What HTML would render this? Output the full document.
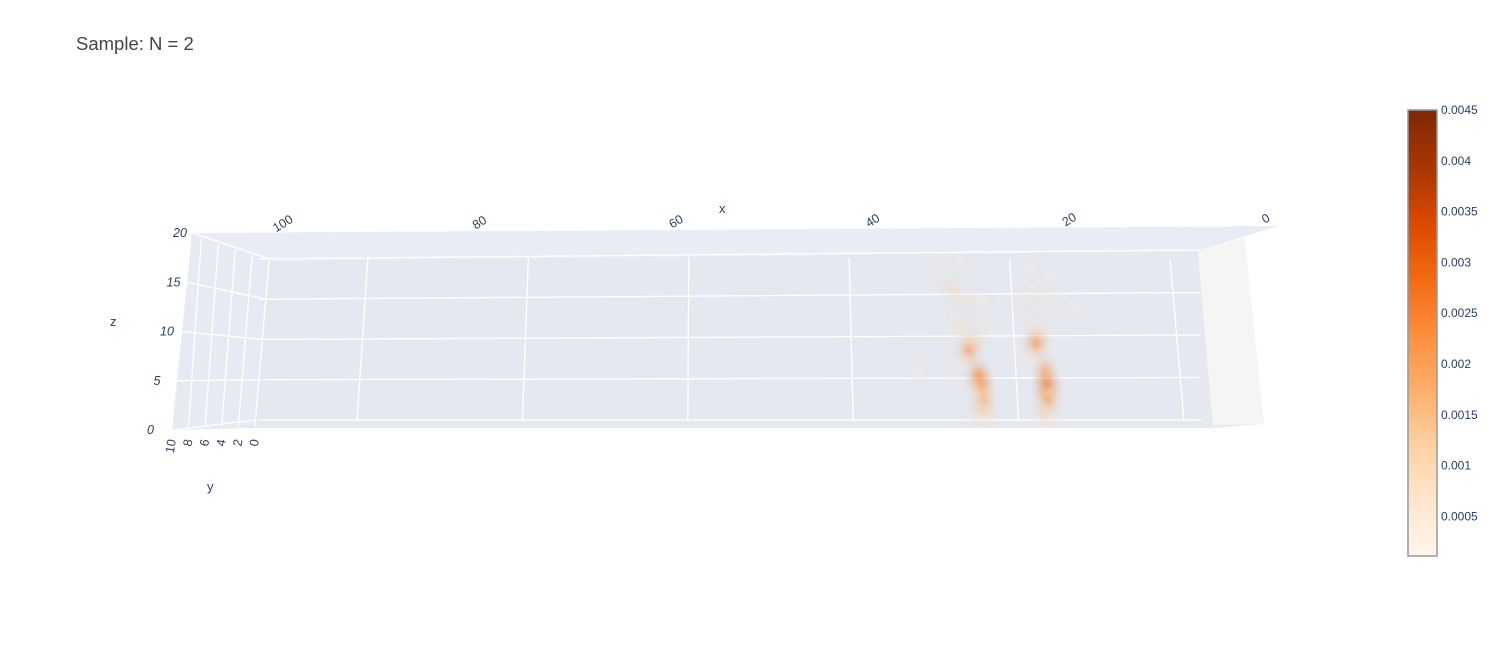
<!DOCTYPE html>
<html><head><meta charset="utf-8"><style>
body{margin:0;background:#fff;font-family:"Liberation Sans",sans-serif}
svg text{font-family:"Liberation Sans",sans-serif;fill:#2a3f5f}
</style></head><body>
<svg width="1503" height="648" xmlns="http://www.w3.org/2000/svg">
<defs>
<linearGradient id="cb" x1="0" y1="1" x2="0" y2="0">
<stop offset="0" stop-color="#fff5eb"/><stop offset="0.125" stop-color="#fee6ce"/><stop offset="0.25" stop-color="#fdd0a2"/><stop offset="0.375" stop-color="#fdae6b"/><stop offset="0.5" stop-color="#fd8d3c"/><stop offset="0.625" stop-color="#f16913"/><stop offset="0.75" stop-color="#d94801"/><stop offset="0.875" stop-color="#a63603"/><stop offset="1" stop-color="#7f2704"/>
</linearGradient>
</defs>
<text x="76" y="50" font-size="18.5" style="fill:#444">Sample: N = 2</text>
<g id="scene">
<polygon points="192,233 1278,226 1198,251 270,261" fill="#e8ecf4"/>
<polygon points="192,233 270,261 255,425 172,430" fill="#e6eaf3"/>
<polygon points="270,261 1198,251 1213,425 255,425" fill="#e5e8ef"/>
<polygon points="1198,251 1245,238 1264,424 1213,425" fill="#f5f5f4"/>
<polygon points="172,430 255,425 1213,425 1264,424 1213,428 255,428" fill="#e6eaf3"/>
<g id="grid" stroke="#fff" stroke-width="1.3" fill="none"></g>
<g id="blobs"></g>
<g id="labels" font-size="12.5"></g>
<text x="719" y="213" font-size="13">x</text>
<text x="110" y="326" font-size="13">z</text>
<text x="207" y="491" font-size="13">y</text>
</g>
<g>
<rect x="1408" y="110" width="29" height="446" fill="url(#cb)" stroke="#999" stroke-width="1.5"/>
<g id="cbticks" font-size="12"></g>
</g>
<script>
const xs=[25.6,24.6,24.3,24.1,24.3,27.4,25.8,26.8,26.2,24.9,23.7,28.0,26.2,29.3,23.7,32.0,27.8,23.7,25.0,17.3,16.5,16.3,16.3,17.0,18.1,18.8,17.5,15.7,20.0,16.5,12.6,17.5,15.1,16.0,26.5,25.0,18.0,16.0];
const zs=[8.7,5.6,4.3,2.5,1.2,16.1,14.9,12.4,11.2,9.9,12.4,18.6,19.6,18.3,14.9,6.2,5.2,0.4,0.2,9.6,6.2,4.3,2.5,0.6,12.4,14.9,16.1,14.9,8.4,11.2,14.0,18.6,18.0,0.3,7.0,3.5,7.5,3.5];
const vals=[0.0024,0.0026,0.0024,0.0020,0.0014,0.0012,0.0009,0.0008,0.0009,0.0011,0.0007,0.0006,0.0005,0.0005,0.0006,0.0006,0.0005,0.0008,0.0007,0.0025,0.0022,0.0030,0.0023,0.0012,0.0008,0.0007,0.0006,0.0007,0.0006,0.0009,0.0006,0.0005,0.0005,0.0009,0.0006,0.0006,0.0006,0.0006];
const zTicks=[0,5,10,15,20];
const xTicks=[0,20,40,60,80,100];
const yTicks=[0,2,4,6,8,10];
const cbTicks=[0.0005,0.001,0.0015,0.002,0.0025,0.003,0.0035,0.004,0.0045];
const cbLabels=["0.0005","0.001","0.0015","0.002","0.0025","0.003","0.0035","0.004","0.0045"];
const NS="http://www.w3.org/2000/svg";
function mk(t,a,p){const e=document.createElementNS(NS,t);for(const k in a)e.setAttribute(k,a[k]);p.appendChild(e);return e;}
const zPx=z=>420-8.05*z;
const xTop=x=>1170-8.02*x, xBot=x=>1184-8.27*x;
const xPx=(x,z)=>{const t=z/20;return xBot(x)*(1-t)+xTop(x)*t;};
const cbY=v=>556-(v-0.00011)/(0.0045-0.00011)*446;
const grid=document.getElementById('grid'),lab=document.getElementById('labels');
zTicks.forEach(z=>{
 const y=zPx(z);
 const l=mk('line',{x1:258,y1:y,x2:1200+0.08*(20-z),y2:y-z*0.45},grid);
 
 const sx=192-(20-z)*1.0, sy=233+(20-z)*9.85;
 const l2=mk('line',{x1:sx,y1:sy,x2:270-(20-z)*0.75,y2:y},grid);
 
 const t=mk('text',{x:sx-25+z*0.3,y:sy+4,'font-style':'italic'},lab);t.textContent=z;
 
});
xTicks.forEach(x=>{
 const l=mk('line',{x1:xTop(x),y1:259-x*0.03,x2:xBot(x),y2:421},grid);
 
 const tx=1268-9.83*x, ty=222+x*0.05;
 const t=mk('text',{x:tx,y:ty,'text-anchor':'middle',transform:`rotate(-32 ${tx} ${ty})`},lab);t.textContent=x;
 
});
yTicks.forEach(yv=>{
 const gx=255-yv*8.3;
 const l=mk('line',{x1:gx+14-yv*0.15,y1:261-yv*2.8,x2:gx,y2:426},grid);
 
 const tx=gx+4, ty=440;
 const t=mk('text',{x:tx,y:ty,'text-anchor':'end',transform:`rotate(-80 ${tx} ${ty})`},lab);t.textContent=yv;
 
});
const stops=["#fff5eb","#fee6ce","#fdd0a2","#fdae6b","#fd8d3c","#f16913","#d94801","#a63603","#7f2704"];
function cmap(v){let t=Math.max(0,Math.min(1,(v-0.00011)/(0.0045-0.00011)))*8;const i=Math.min(7,Math.floor(t)),f=t-i;
 const a=stops[i],b=stops[i+1];const c=[1,3,5].map(k=>Math.round(parseInt(a.substr(k,2),16)*(1-f)+parseInt(b.substr(k,2),16)*f));return `rgb(${c})`;}
const defs=document.querySelector('defs'),bl=document.getElementById('blobs');
xs.forEach((x,i)=>{
 const v=vals[i],col=cmap(v),id='g'+i;
 const g=mk('radialGradient',{id:id},defs);
 mk('stop',{offset:'0','stop-color':col,'stop-opacity':Math.min(0.75,0.2+v*160)},g);
 mk('stop',{offset:'0.4','stop-color':col,'stop-opacity':Math.min(0.35,0.1+v*60)},g);
 mk('stop',{offset:'1','stop-color':'#d8cfc4','stop-opacity':0},g);
 const cx=xPx(x,zs[i]),cy=zPx(zs[i]);
 const e=mk('ellipse',{cx:cx,cy:cy,rx:13+v*1500,ry:14+v*2500,fill:`url(#${id})`},bl);
 
});
const cbt=document.getElementById('cbticks');
cbTicks.forEach((v,i)=>{const t=mk('text',{x:1441,y:cbY(v)+4},cbt);t.textContent=cbLabels[i];
 });
</script>
</svg>
</body></html>
